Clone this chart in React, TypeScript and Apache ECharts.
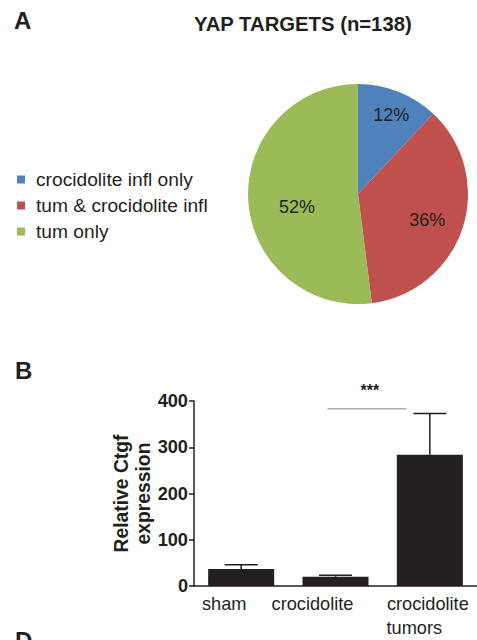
import React, { useEffect, useRef } from "react";
import * as echarts from "echarts";

// ---- Panel A: pie data ----
const pieNames = ["crocidolite infl only", "tum & crocidolite infl", "tum only"];
const piePercents = [12, 36, 52];
const pieColors = ["#4F81BD", "#C0504D", "#9BBB59"];
// label nudges (px) relative to ECharts' default inside position
const pieLabelNudges = [
  [12, -25],
  [14, 8],
  [-3, 9],
];

// ---- Panel B: bar data ----
const barCategories = ["sham", "crocidolite", "crocidolite\ntumors"];
const barMeans = [37, 20, 284];
const barErrors = [9, 3, 89];
const yMin = 0;
const yMax = 400;
const yInterval = 100;
const sigFrom = 1;
const sigTo = 2;
const sigValue = 383;
const sigLabel = "***";

const FONT = "'Liberation Sans', Arial, Helvetica, sans-serif";
const INK = "#231F20";

export default function App() {
  const ref = useRef<HTMLDivElement>(null);

  useEffect(() => {
    if (!ref.current) return;
    const chart = echarts.init(ref.current, undefined, { renderer: "svg" });

    const option: any = {
      animation: false,
      backgroundColor: "#ffffff",
      textStyle: { fontFamily: FONT, color: INK },
      title: [
        {
          text: "A",
          left: 9,
          top: 3,
          textStyle: { fontFamily: FONT, fontSize: 24, fontWeight: "bold", color: INK },
        },
        {
          text: "YAP TARGETS (n=138)",
          left: 189,
          top: 9,
          textStyle: { fontFamily: FONT, fontSize: 20.3, fontWeight: "bold", color: INK },
        },
        {
          text: "B",
          left: 10,
          top: 353,
          textStyle: { fontFamily: FONT, fontSize: 24, fontWeight: "bold", color: INK },
        },
        {
          text: "D",
          left: 10,
          top: 623,
          textStyle: { fontFamily: FONT, fontSize: 24, fontWeight: "bold", color: INK },
        },
      ],
      legend: {
        data: pieNames,
        orient: "vertical",
        left: 12,
        top: 165,
        icon: "rect",
        itemWidth: 8,
        itemHeight: 8,
        itemGap: 7,
        selectedMode: false,
        textStyle: {
          fontFamily: FONT,
          fontSize: 19.2,
          lineHeight: 19,
          color: INK,
          padding: [0, 0, 0, 6],
        },
      },
      grid: {
        left: 194,
        right: 0,
        top: 401,
        bottom: 52,
        containLabel: false,
      },
      xAxis: {
        type: "category",
        data: barCategories,
        axisLine: { lineStyle: { color: INK, width: 1.5 } },
        axisTick: { alignWithLabel: true, length: 6, lineStyle: { color: INK, width: 1.5 } },
        axisLabel: {
          margin: 6,
          interval: 0,
          fontFamily: FONT,
          fontSize: 18.2,
          color: INK,
          lineHeight: 24,
          formatter: (value: string) => {
            if (value === barCategories[0]) return "{s|" + value + "}";
            if (value === barCategories[1]) return "{c|" + value + "}";
            const parts = value.split("\n");
            return "{t1|" + parts[0] + "}\n{t2|" + parts[1] + "}";
          },
          rich: {
            s: { fontFamily: FONT, fontSize: 18.2, color: INK, lineHeight: 24, padding: [0, 34, 0, 0] },
            c: { fontFamily: FONT, fontSize: 18.2, color: INK, lineHeight: 24, padding: [0, 46, 0, 0] },
            t1: { fontFamily: FONT, fontSize: 18.2, color: INK, lineHeight: 24, padding: [0, 4, 0, 0] },
            t2: { fontFamily: FONT, fontSize: 18.2, color: INK, lineHeight: 24, padding: [0, 31, 0, 0] },
          },
        },
      },
      yAxis: {
        type: "value",
        min: yMin,
        max: yMax,
        interval: yInterval,
        name: "Relative Ctgf\nexpression",
        nameLocation: "middle",
        nameGap: 40,
        nameMoveOverlap: false,
        nameTextStyle: {
          fontFamily: FONT,
          fontSize: 19.3,
          fontWeight: "bold",
          color: INK,
          lineHeight: 22,
        },
        axisLine: { show: true, lineStyle: { color: INK, width: 1.5 } },
        axisTick: { show: true, length: 5, lineStyle: { color: INK, width: 1.5 } },
        axisLabel: {
          margin: 6,
          fontFamily: FONT,
          fontSize: 18.2,
          fontWeight: "bold",
          color: INK,
        },
        splitLine: { show: false },
      },
      series: [
        {
          type: "pie",
          name: "YAP targets",
          center: [358, 194],
          radius: 110,
          startAngle: 90,
          clockwise: true,
          silent: true,
          data: pieNames.map((n, i) => ({
            name: n,
            value: piePercents[i],
            itemStyle: { color: pieColors[i] },
          })),
          itemStyle: { borderWidth: 0 },
          label: {
            show: true,
            position: "inside",
            formatter: "{c}%",
            fontFamily: FONT,
            fontSize: 18,
            color: INK,
          },
          labelLine: { show: false },
          labelLayout: (params: any) => {
            const n = pieLabelNudges[params.dataIndex];
            return { dx: n[0], dy: n[1] };
          },
        },
        {
          type: "bar",
          name: "Ctgf",
          data: barMeans,
          barWidth: "70%",
          itemStyle: { color: INK },
          silent: true,
        },
        {
          type: "custom",
          name: "error",
          silent: true,
          data: barMeans.map((m, i) => [i, m, m + barErrors[i]]),
          encode: { x: 0, y: [1, 2] },
          renderItem: (params: any, api: any) => {
            const idx = api.value(0);
            const base = api.coord([idx, api.value(1)]);
            const top = api.coord([idx, api.value(2)]);
            const band = api.size([1, 0])[0];
            const half = band * 0.175;
            return {
              type: "group",
              children: [
                {
                  type: "line",
                  shape: { x1: top[0], y1: base[1], x2: top[0], y2: top[1] },
                  style: { stroke: INK, lineWidth: 1.5 },
                },
                {
                  type: "line",
                  shape: { x1: top[0] - half, y1: top[1], x2: top[0] + half, y2: top[1] },
                  style: { stroke: INK, lineWidth: 1.5 },
                },
              ],
            };
          },
          z: 5,
        },
        {
          type: "custom",
          name: "significance",
          silent: true,
          data: [[sigFrom, sigTo, sigValue]],
          encode: { x: [0, 1], y: 2 },
          renderItem: (params: any, api: any) => {
            const band = api.size([1, 0])[0];
            const a = api.coord([api.value(0), api.value(2)]);
            const b = api.coord([api.value(1), api.value(2)]);
            const x1 = a[0] - band * 0.085;
            const x2 = b[0] - band * 0.25;
            return {
              type: "group",
              children: [
                {
                  type: "line",
                  shape: { x1, y1: a[1], x2, y2: a[1] },
                  style: { stroke: "#808080", lineWidth: 1 },
                },
                {
                  type: "text",
                  x: (x1 + x2) / 2 + 3,
                  y: a[1] - 10,
                  style: {
                    text: sigLabel,
                    fontFamily: FONT,
                    fontSize: 16,
                    fontWeight: "bold",
                    fill: INK,
                    align: "center",
                    verticalAlign: "bottom",
                  },
                },
              ],
            };
          },
          z: 5,
        },
      ],
    };

    chart.setOption(option);
    return () => chart.dispose();
  }, []);

  return (
    <div
      ref={ref}
      style={{ position: "absolute", left: 0, top: 0, width: 477, height: 640 }}
    />
  );
}
